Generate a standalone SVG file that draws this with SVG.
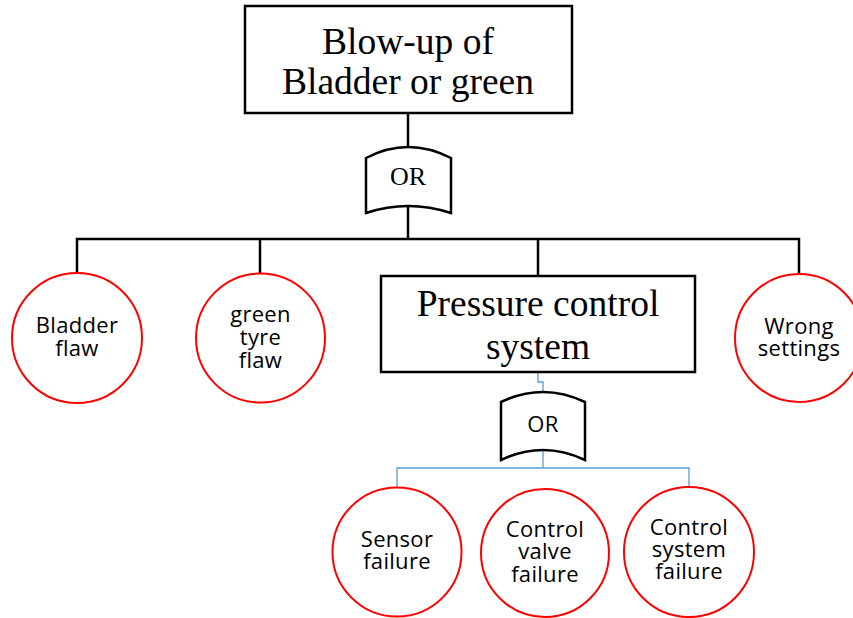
<svg xmlns="http://www.w3.org/2000/svg" width="853" height="618" viewBox="0 0 853 618">
<style>
.box{fill:#fff;stroke:#000;stroke-width:2.5}
.gate{fill:#fff;stroke:#000;stroke-width:2.5}
.ev{fill:#fff;stroke:#ff0000;stroke-width:2}
.blk{fill:none;stroke:#000;stroke-width:2.5}
.blu{fill:none;stroke:#5b9bd5;stroke-width:1.3}
.serif{font-family:"Liberation Serif","Times New Roman",serif;text-anchor:middle;fill:#000}
.sans{font-family:"Open Sans","Noto Sans",sans-serif;font-size:22px;letter-spacing:0.3px;text-anchor:middle;fill:#000}
</style>
<rect width="853" height="618" fill="#fff"/>
<g id="connectors">
<path class="blk" d="M408,113 V147"/>
<path class="blk" d="M408,206 V239"/>
<path class="blk" d="M77,273 V239 H799 V273"/>
<path class="blk" d="M260,239 V274"/>
<path class="blk" d="M538,239 V276"/>
<path class="blu" d="M538,372 V382 H543 V392"/>
<path class="blu" d="M543,450 V468"/>
<path class="blu" d="M397,487 V468 H689 V487"/>
</g>
<g id="top">
<rect class="box" x="245" y="6" width="327" height="107"/>
<text class="serif" font-size="37.5" x="408" y="54">Blow-up of</text>
<text class="serif" font-size="37.5" x="408" y="94">Bladder or green</text>
</g>
<g id="or1">
<path class="gate" d="M366,158 Q408,136 451,158 L451,213 Q408,199 366,213 Z"/>
<text class="serif" font-size="26" x="408" y="185">OR</text>
</g>
<g id="bladder">
<circle class="ev" cx="77" cy="338" r="65"/>
<text class="sans" x="77" y="333">Bladder</text>
<text class="sans" x="77" y="356">flaw</text>
</g>
<g id="green">
<circle class="ev" cx="260.5" cy="338" r="64.5"/>
<text class="sans" x="260.5" y="322">green</text>
<text class="sans" x="260.5" y="345">tyre</text>
<text class="sans" x="260.5" y="368">flaw</text>
</g>
<g id="pressure">
<rect class="box" x="381" y="276" width="314" height="96"/>
<text class="serif" font-size="37.5" x="538" y="316">Pressure control</text>
<text class="serif" font-size="37.5" x="538" y="359">system</text>
</g>
<g id="wrong">
<circle class="ev" cx="799" cy="338" r="64"/>
<text class="sans" x="799" y="334">Wrong</text>
<text class="sans" x="799" y="356">settings</text>
</g>
<g id="or2">
<path class="gate" d="M501,402 Q543,382 585,402 L585,460 Q543,440 501,460 Z"/>
<text class="sans" font-size="21" x="543" y="432">OR</text>
</g>
<g id="sensor">
<circle class="ev" cx="397" cy="552" r="64.5"/>
<text class="sans" x="397" y="547">Sensor</text>
<text class="sans" x="397" y="569">failure</text>
</g>
<g id="valve">
<circle class="ev" cx="545" cy="553" r="64"/>
<text class="sans" x="545" y="537">Control</text>
<text class="sans" x="545" y="559">valve</text>
<text class="sans" x="545" y="582">failure</text>
</g>
<g id="ctrlsys">
<circle class="ev" cx="689" cy="552" r="65"/>
<text class="sans" x="689" y="535">Control</text>
<text class="sans" x="689" y="557">system</text>
<text class="sans" x="689" y="579">failure</text>
</g>
</svg>
